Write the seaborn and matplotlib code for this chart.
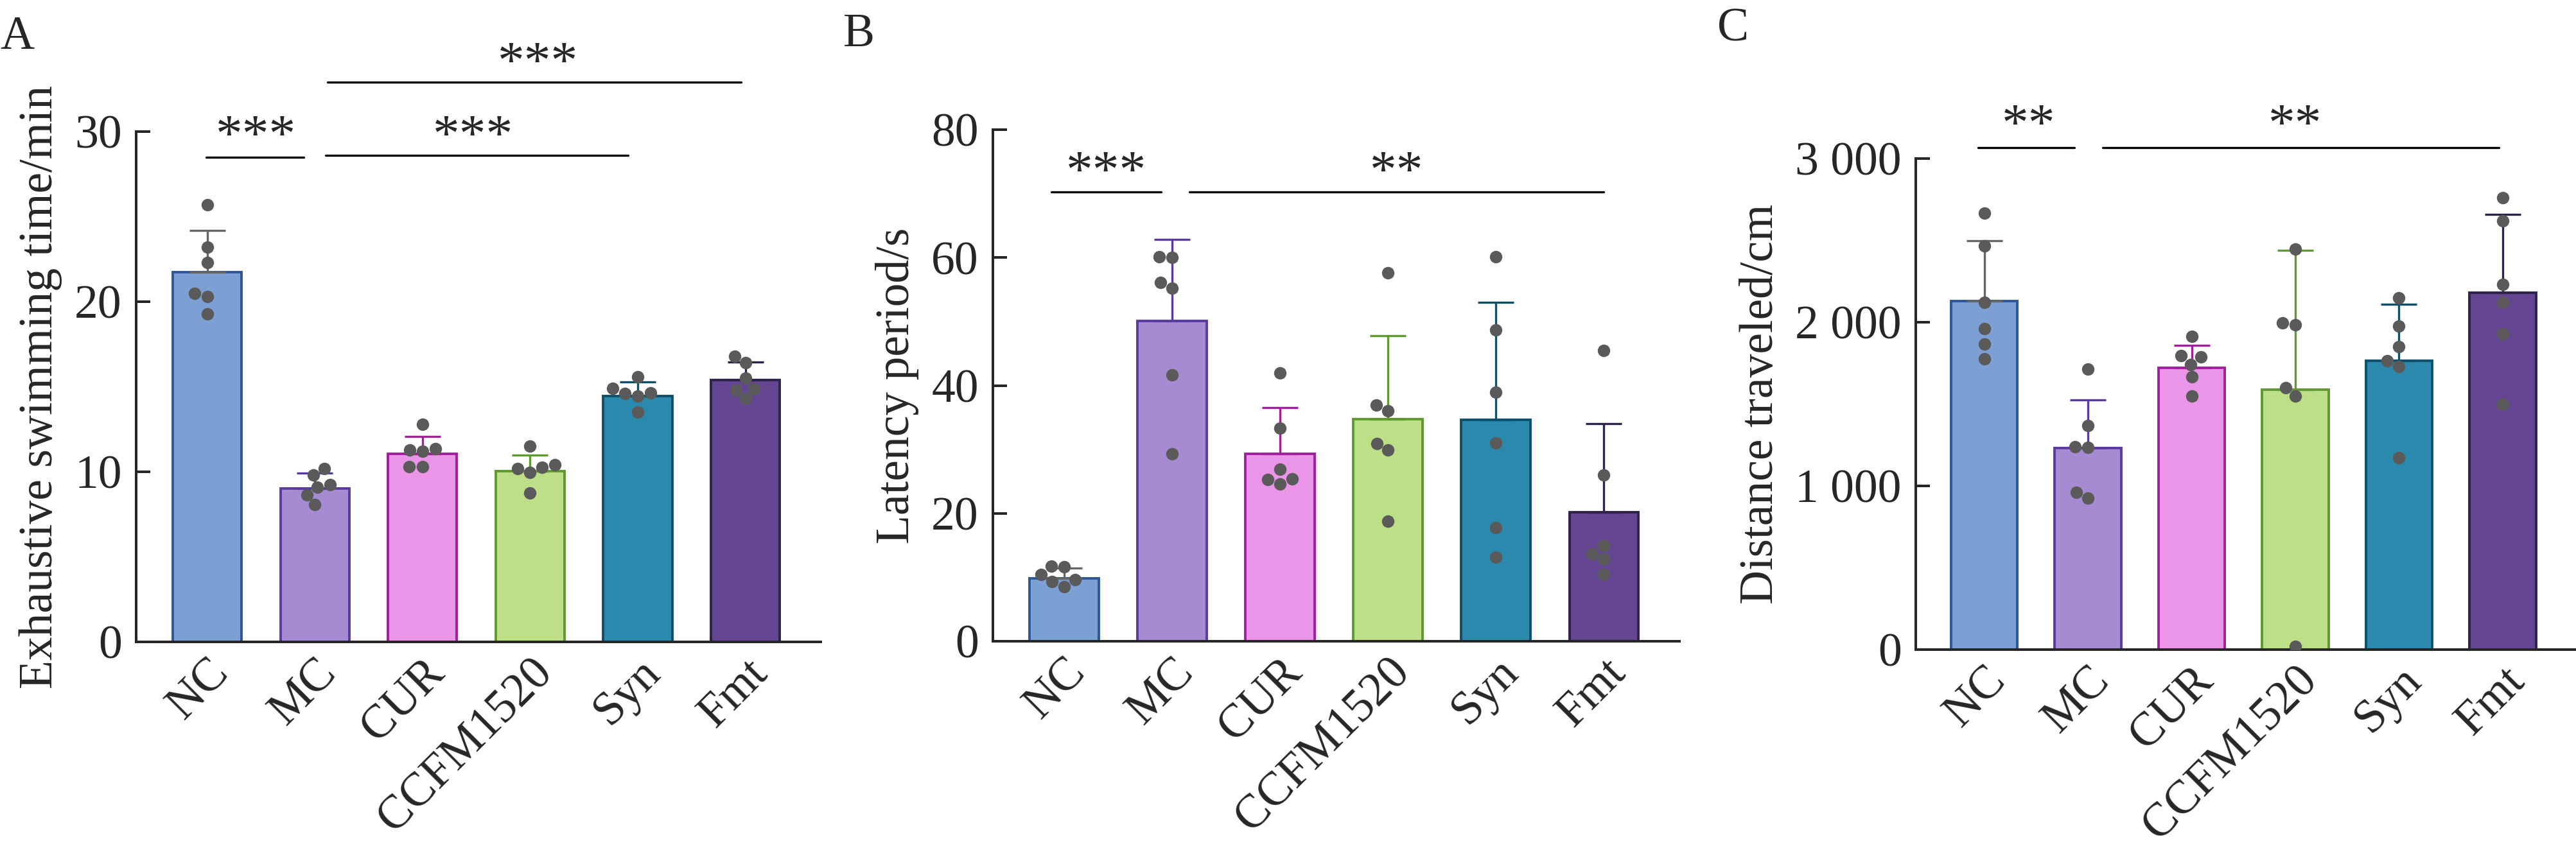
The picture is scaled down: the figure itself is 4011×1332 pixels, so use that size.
import numpy as np
import pandas as pd
import seaborn as sns
import matplotlib.pyplot as plt

groups = ["NC", "MC", "CUR", "CCFM1520", "Syn", "Fmt"]

# A: exhaustive swimming time / min
swim_mean = [21.74, 9.03, 11.05, 10.02, 14.47, 15.40]
swim_sd = [2.46, 0.90, 1.02, 0.98, 0.80, 1.06]
swim_pts = [
    [25.7, 23.2, 22.3, 20.5, 20.3, 19.3],
    [10.2, 9.8, 9.25, 9.1, 8.65, 8.07],
    [12.8, 11.3, 11.35, 11.2, 10.3, 10.3],
    [11.5, 10.4, 10.25, 10.2, 9.95, 8.75],
    [15.6, 14.9, 14.6, 14.45, 14.65, 13.5],
    [16.8, 16.4, 15.5, 14.8, 14.3, 14.85],
]

# B: latency period / s
lat_mean = [9.8, 50.1, 29.3, 34.7, 34.6, 20.2]
lat_sd = [1.6, 12.7, 7.2, 13.1, 18.4, 13.8]
lat_pts = [
    [11.7, 11.6, 10.4, 9.6, 9.3, 8.5],
    [60.1, 60.0, 56.1, 55.2, 41.7, 29.3],
    [42.0, 33.3, 26.9, 25.4, 25.3, 24.6],
    [57.6, 36.9, 36.0, 30.9, 29.9, 18.8],
    [60.1, 48.7, 38.9, 31.0, 17.8, 13.1],
    [45.5, 26.0, 15.0, 13.7, 12.8, 10.4],
]

# C: distance traveled / cm
dist_mean = [2130, 1230, 1720, 1587, 1763, 2180]
dist_sd = [367, 297, 140, 853, 347, 477]
dist_pts = [
    [2667, 2467, 2123, 1960, 1867, 1777],
    [1713, 1370, 1240, 1237, 960, 927],
    [1913, 1797, 1790, 1743, 1667, 1550],
    [2447, 1997, 1983, 1600, 1550, 20],
    [2150, 1977, 1850, 1763, 1730, 1173],
    [2760, 2620, 2233, 2123, 1930, 1500],
]

fills = ["#7DA0D4", "#A68BD2", "#EA95E8", "#BCDF87", "#2C89AE", "#634592"]
edges = ["#2F5597", "#5B3A9E", "#A0209C", "#5E9A2E", "#114E6A", "#2E2248"]
errc = ["#666666", "#5B3A9E", "#A0209C", "#5E9A2E", "#114E6A", "#2E2248"]

sns.set_style("ticks")
plt.rcParams["font.family"] = ["Liberation Serif", "DejaVu Serif"]
FS = 53

fig = plt.figure(figsize=(40.11, 13.32), dpi=100)
W, H = 4011, 1332


def make_ax(l, t, r, b):
    return fig.add_axes([l / W, 1 - b / H, (r - l) / W, (b - t) / H])


def panel(ax, means, sds, pts, ymax, yticks, yticklabels, ylabel):
    sns.barplot(x=groups, y=means, hue=groups, palette=fills, legend=False,
                saturation=1, width=0.64, linewidth=2.8, ax=ax, zorder=1)
    for p, ec in zip(ax.patches, edges):
        p.set_edgecolor(ec)
    for i in range(len(groups)):
        ax.errorbar(i, means[i], yerr=[[0], [sds[i]]], fmt="none", ecolor=errc[i],
                    elinewidth=2.4, capsize=20, capthick=2.4, zorder=3)
    df = pd.DataFrame({"group": np.repeat(groups, 6), "value": np.concatenate(pts)})
    sns.swarmplot(data=df, x="group", y="value", order=groups, color="#5a5a5a",
                  size=14, ax=ax, zorder=4)
    ax.set_xlim(-0.66, 5.70)
    ax.set_ylim(0, ymax)
    ax.set_yticks(yticks)
    ax.set_yticklabels(yticklabels)
    ax.set_xlabel("")
    ax.set_ylabel(ylabel, fontsize=FS, labelpad=14)
    sns.despine(ax=ax)
    for s in ["left", "bottom"]:
        ax.spines[s].set_linewidth(2.9)
    ax.tick_params(axis="y", direction="in", length=16, width=2.9, labelsize=FS, pad=16)
    ax.tick_params(axis="x", length=0, labelsize=FS, pad=10)
    for lab in ax.get_xticklabels():
        lab.set_rotation(45)
        lab.set_ha("right")
        lab.set_rotation_mode("anchor")


def sig(ax, x1, x2, y, xt, yt, txt):
    ax.plot([x1, x2], [y, y], color="black", lw=2.4, clip_on=False)
    ax.text(xt, yt, txt, ha="center", va="center", fontsize=60, clip_on=False)


axA = make_ax(212, 205, 1278, 1000)
panel(axA, swim_mean, swim_sd, swim_pts, 30, [0, 10, 20, 30], ["0", "10", "20", "30"],
      "Exhaustive swimming time/min")
sig(axA, -0.01, 0.90, 28.5, 0.45, 29.6, "***")
sig(axA, 1.10, 3.91, 28.6, 2.47, 29.6, "***")
sig(axA, 1.12, 4.96, 32.9, 3.07, 33.9, "***")

axB = make_ax(1546, 202, 2615, 999)
panel(axB, lat_mean, lat_sd, lat_pts, 80, [0, 20, 40, 60, 80], ["0", "20", "40", "60", "80"],
      "Latency period/s")
sig(axB, -0.12, 0.90, 70.3, 0.39, 73.0, "***")
sig(axB, 1.16, 5.0, 70.3, 3.08, 73.0, "**")

axC = make_ax(2983, 247, 4010, 1012)
panel(axC, dist_mean, dist_sd, dist_pts, 3000, [0, 1000, 2000, 3000],
      ["0", "1 000", "2 000", "3 000"], "Distance traveled/cm")
sig(axC, -0.06, 0.87, 3067, 0.43, 3190, "**")
sig(axC, 1.14, 4.96, 3067, 3.0, 3190, "**")

for x, y, letter in [(0, 25, "A"), (1313, 21, "B"), (2674, 12, "C")]:
    fig.text(x / W, 1 - y / H, letter, ha="left", va="top", fontsize=FS)

fig.savefig("out.png", dpi=100)
